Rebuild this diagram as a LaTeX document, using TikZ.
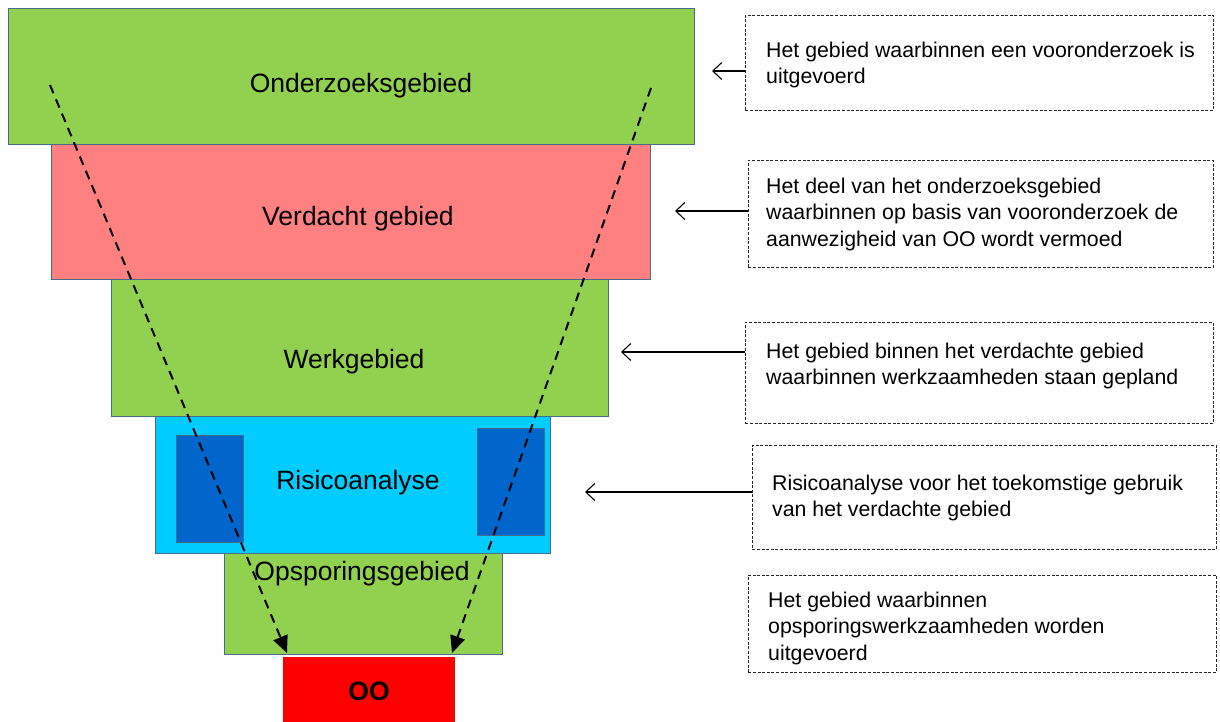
\documentclass[tikz,border=0pt]{standalone}
\usepackage{fontspec}
\setmainfont{Liberation Sans}
\usetikzlibrary{arrows.meta}
\definecolor{lgreen}{HTML}{92D050}
\definecolor{salmon}{HTML}{FF8080}
\definecolor{cyanbox}{HTML}{00CCFF}
\definecolor{darkblue}{HTML}{0066CC}
\definecolor{edgecol}{HTML}{4A6A8C}
\definecolor{redbox}{HTML}{FF0000}
\tikzset{
  layer/.style={draw=edgecol, line width=0.8pt, anchor=north west, inner sep=0pt},
  inner/.style={draw=edgecol, line width=0.6pt, fill=darkblue, anchor=north west, inner sep=0pt},
  biglabel/.style={font=\fontsize{26.5}{30}\selectfont, inner sep=0pt},
  descbox/.style={draw=black!85, line width=0.7pt, dash pattern=on 3pt off 1.6pt, anchor=north west, inner sep=0pt},
  desctext/.style={font=\fontsize{21.3}{26.5}\selectfont, align=left, anchor=west, inner sep=0pt},
  pointer/.style={line width=1.1pt, -{Straight Barb[length=9pt,width=17pt,line width=1.1pt]}},
  funnel/.style={line width=2pt, dash pattern=on 9pt off 6.5pt, -{Triangle[length=17pt,width=15pt]}},
}
\begin{document}
\begin{tikzpicture}[x=1pt,y=-1pt]
\useasboundingbox (0,0) rectangle (1220,722);
% layers
\node[layer, fill=lgreen, minimum width=686pt, minimum height=136pt] (ond) at (8,8) {};
\node[layer, fill=salmon, minimum width=599pt, minimum height=135pt] (ver) at (51,144) {};
\node[layer, fill=lgreen, minimum width=497pt, minimum height=137pt] (wrk) at (111,279) {};
\node[layer, fill=cyanbox, minimum width=395pt, minimum height=137pt] (ris) at (155,416) {};
\node[inner, minimum width=67pt, minimum height=107pt] (sqL) at (176,435) {};
\node[inner, minimum width=67pt, minimum height=107pt] (sqR) at (477,428) {};
\node[layer, fill=lgreen, minimum width=278pt, minimum height=101pt] (ops) at (224,553) {};
\node[anchor=north west, fill=redbox, inner sep=0pt, minimum width=172pt, minimum height=65pt] (oo) at (283,657) {};
% labels
\node[biglabel] (lond) at (361,86) {Onderzoeksgebied};
\node[biglabel] (lver) at (358,219) {Verdacht gebied};
\node[biglabel] (lwrk) at (354,362) {Werkgebied};
\node[biglabel] (lris) at (358,483) {Risicoanalyse};
\node[biglabel] (lops) at (362,574) {Opsporingsgebied};
\node[biglabel, font=\fontsize{26.5}{30}\selectfont\bfseries] (loo) at (369,691) {OO};
% description boxes
\node[descbox, minimum width=468pt, minimum height=95pt] (b1) at (745,15) {};
\node[descbox, minimum width=465pt, minimum height=107pt] (b2) at (748,160) {};
\node[descbox, minimum width=468pt, minimum height=101pt] (b3) at (745,322) {};
\node[descbox, minimum width=464pt, minimum height=104pt] (b4) at (752,445) {};
\node[descbox, minimum width=468pt, minimum height=97pt] (b5) at (748,575) {};
\node[desctext] (t1) at (766,65) {Het gebied waarbinnen een vooronderzoek is\\uitgevoerd};
\node[desctext] (t2) at (766,214) {Het deel van het onderzoeksgebied\\waarbinnen op basis van vooronderzoek de\\aanwezigheid van OO wordt vermoed};
\node[desctext] (t3) at (766,366) {Het gebied binnen het verdachte gebied\\waarbinnen werkzaamheden staan gepland};
\node[desctext] (t4) at (772,498) {Risicoanalyse voor het toekomstige gebruik\\van het verdachte gebied};
\node[desctext] (t5) at (768,628) {Het gebied waarbinnen\\opsporingswerkzaamheden worden\\uitgevoerd};
% pointers
\coordinate (p1) at (712,71);
\coordinate (p2) at (675,211);
\coordinate (p3) at (621,352);
\coordinate (p4) at (585,492);
\draw[pointer] (b1.west |- p1) -- (p1);
\draw[pointer] (b2.west |- p2) -- (p2);
\draw[pointer] (b3.west |- p3) -- (p3);
\draw[pointer] (b4.west |- p4) -- (p4);
% funnel arrows
\coordinate (fl0) at (50,85);
\coordinate (fl1) at (287,653);
\coordinate (fr0) at (651,88);
\coordinate (fr1) at (452,653);
\draw[funnel] (fl0) -- (fl1);
\draw[funnel] (fr0) -- (fr1);
\end{tikzpicture}
\end{document}
